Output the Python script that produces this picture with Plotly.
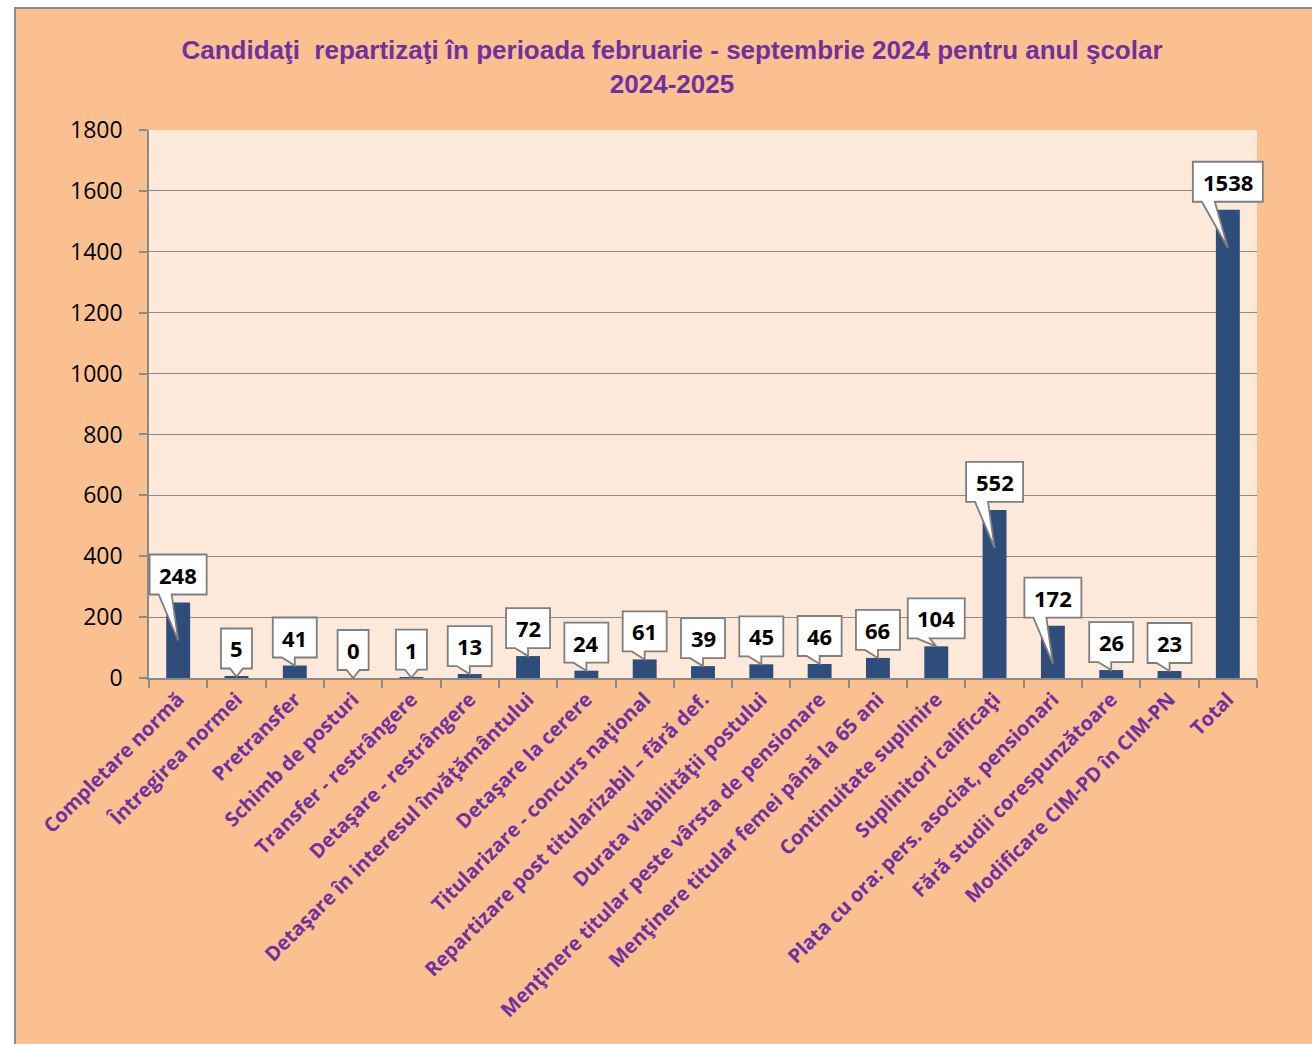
import plotly.graph_objects as go

categories = [
    "Completare normă",
    "Întregirea normei",
    "Pretransfer",
    "Schimb de posturi",
    "Transfer - restrângere",
    "Detaşare - restrângere",
    "Detaşare în interesul învăţământului",
    "Detaşare la cerere",
    "Titularizare - concurs naţional",
    "Repartizare post titularizabil – fără def.",
    "Durata viabilităţii postului",
    "Menţinere titular peste vârsta de pensionare",
    "Menţinere titular femei până la 65 ani",
    "Continuitate suplinire",
    "Suplinitori calificaţi",
    "Plata cu ora: pers. asociat, pensionari",
    "Fără studii corespunzătoare",
    "Modificare CIM-PD în CIM-PN",
    "Total",
]
values = [248, 5, 41, 0, 1, 13, 72, 24, 61, 39, 45, 46, 66, 104, 552, 172, 26, 23, 1538]
y_ticks = [0, 200, 400, 600, 800, 1000, 1200, 1400, 1600, 1800]

title_text = "<b>Candidaţi \u00a0repartizaţi în perioada februarie - septembrie 2024 pentru anul şcolar<br>2024-2025</b>"

W, H = 1312, 1044
ML, MR, MT, MB = 149, 55, 130, 366
PW, PH = W - ML - MR, H - MT - MB

ORANGE = "#FAC090"
PLOTBG = "#FDE9D9"
BAR = "#2E4D7B"
PURPLE = "#7030A0"
GRID = "#8A8A8A"
FRAME = "#8C8C8C"

N = len(categories)
x_range = [-0.5, N - 0.5]
ymax = y_ticks[-1]
px_per_unit = PH / ymax

fig = go.Figure()
fig.add_trace(go.Bar(
    x=categories, y=values, marker=dict(color=BAR, line=dict(width=0)),
    width=0.41, hoverinfo="x+y",
))

shapes = []
annotations = []


def px(xp):
    return (xp - ML) / PW


def py(yp):
    return (H - MB - yp) / PH


# outer white margin + frame
shapes.append(dict(type="rect", xref="paper", yref="paper", x0=px(-5), x1=px(15), y0=py(-5), y1=py(H + 5),
                   fillcolor="white", line=dict(width=0), layer="below"))
shapes.append(dict(type="rect", xref="paper", yref="paper", x0=px(-5), x1=px(W + 5), y0=py(8), y1=py(-5),
                   fillcolor="white", line=dict(width=0), layer="below"))
shapes.append(dict(type="rect", xref="paper", yref="paper", x0=px(15), x1=px(W + 20), y0=py(8), y1=py(H + 20),
                   fillcolor="rgba(0,0,0,0)", line=dict(color=FRAME, width=2), layer="below"))

# callouts (paper-anchored so they are not clipped by the plot area)
for i, (cat, v) in enumerate(zip(categories, values)):
    n = len(str(v))
    w = 18 + 13 * n
    h = 40
    yb = 8
    bar_h = v * px_per_unit
    d = 38 if bar_h > 45 else 0
    l, r = -w / 2, w / 2
    b1, b2 = l + 9, l + 22
    path = (f"M {l},{yb} L {b1},{yb} L 0,{-d} L {b2},{yb} L {r},{yb} "
            f"L {r},{yb + h} L {l},{yb + h} Z")
    xa = (i - x_range[0]) / (x_range[1] - x_range[0])
    ya = v / ymax
    shapes.append(dict(type="path", xref="paper", yref="paper", xsizemode="pixel", ysizemode="pixel",
                       xanchor=xa, yanchor=ya, path=path, fillcolor="white",
                       line=dict(color="#7F7F7F", width=1.8), layer="above"))
    annotations.append(dict(x=cat, y=v, xref="x", yref="y", text=f"<b>{v}</b>", showarrow=False,
                            yshift=yb + h / 2, font=dict(family="Open Sans", size=22, color="black"),
                            xanchor="center", yanchor="middle"))

fig.update_layout(
    template="none",
    width=W, height=H,
    margin=dict(l=ML, r=MR, t=MT, b=MB, pad=0),
    paper_bgcolor=ORANGE,
    plot_bgcolor=PLOTBG,
    showlegend=False,
    title=dict(text=title_text, x=672 / W, xref="container", xanchor="center",
               y=1 - 59 / H, yref="container", yanchor="top",
               font=dict(family="Liberation Sans Narrow, Arial Narrow, Liberation Sans, Arial", size=26,
                         color=PURPLE)),
    shapes=shapes,
    annotations=annotations,
    xaxis=dict(
        type="category", range=x_range, autorange=False,
        tickson="boundaries", ticks="outside", ticklen=8, tickcolor=GRID, tickwidth=1.5,
        showline=True, linecolor=GRID, linewidth=1.5, showgrid=False, automargin=False,
        tickangle=-45, tickfont=dict(family="Open Sans", size=20, color=PURPLE, weight="bold"),
        zeroline=False,
    ),
    yaxis=dict(
        range=[0, ymax], tickvals=y_ticks, ticks="outside", ticklen=8, tickcolor=GRID, tickwidth=1.5,
        showline=True, linecolor=GRID, linewidth=1.5, showgrid=True, gridcolor=GRID, gridwidth=1.3,
        automargin=False, zeroline=False, ticklabelstandoff=12,
        tickfont=dict(family="Open Sans", size=23, color="black"),
    ),
)

fig.write_html(
    "out.html",
    config={"displayModeBar": False},
    post_script="document.body.style.margin='0';document.body.style.overflow='hidden';",
)
